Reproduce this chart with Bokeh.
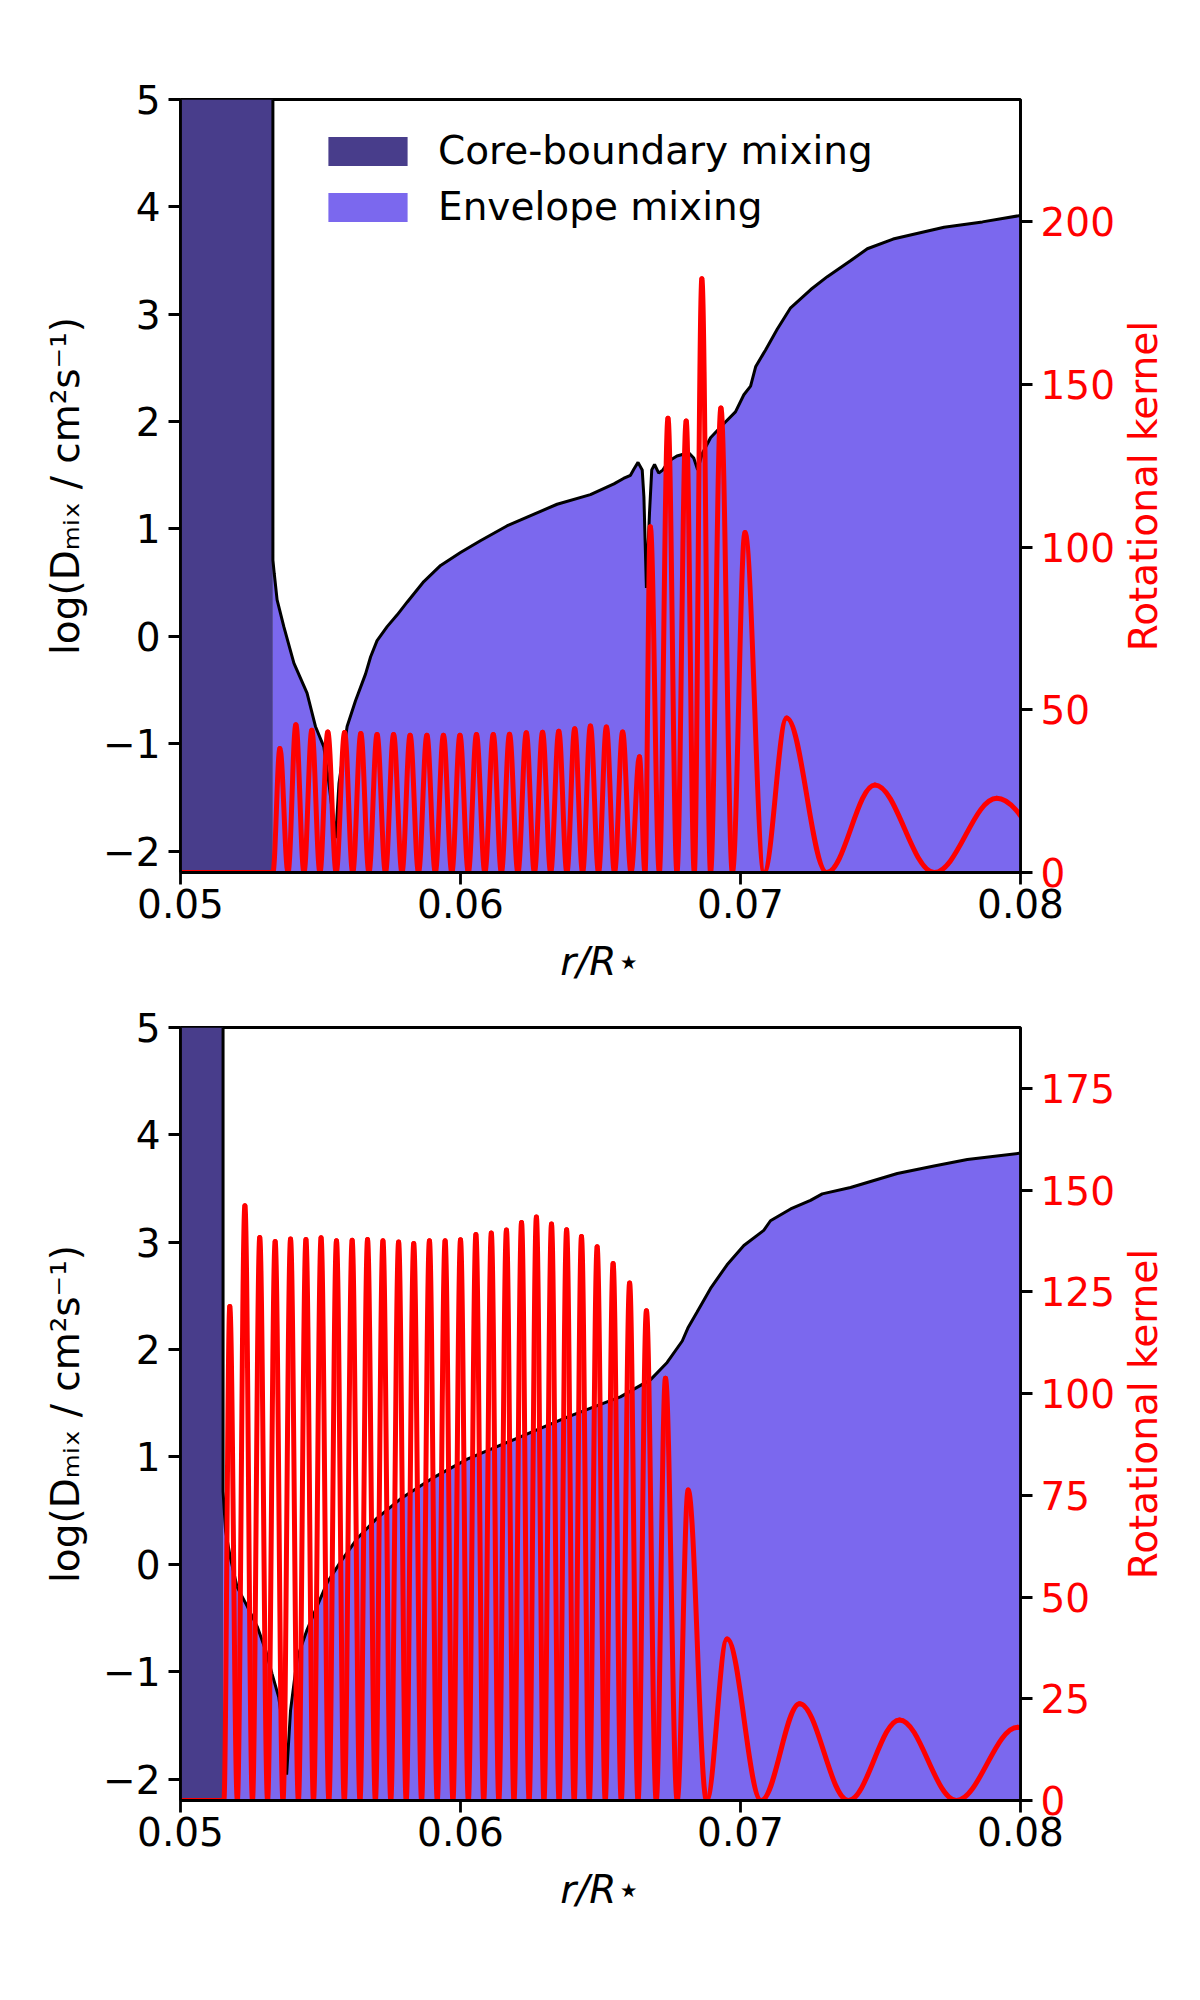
import math
from bokeh.plotting import figure
from bokeh.models import Range1d, LinearAxis, FixedTicker, Legend, LegendItem, Label
from bokeh.layouts import column, row
from bokeh.embed import file_html
from bokeh.resources import INLINE

# ---------------- data ----------------
x_limits = (0.05, 0.08)
d_limits = (-2.2, 5.0)
k_limits_top = (0.0, 237.5)
k_limits_bot = (0.0, 190.0)

x_ticks = [0.05, 0.06, 0.07, 0.08]
x_tick_labels = ["0.05", "0.06", "0.07", "0.08"]
d_ticks = [-2, -1, 0, 1, 2, 3, 4, 5]
d_tick_labels = ["\u22122", "\u22121", "0", "1", "2", "3", "4", "5"]
k_ticks_top = [0, 50, 100, 150, 200]
k_ticks_bot = [0, 25, 50, 75, 100, 125, 150, 175]

x_label = "r/R\u22c6"
d_label = "log(D\u2098\u1d62\u2093 / cm\u00b2s\u207b\u00b9)"
k_label = "Rotational kernel"
legend_labels = ["Core-boundary mixing", "Envelope mixing"]

# top panel: mixing profile (log D_mix) and core-boundary edge
core_edge_top = 0.0533
top_r = [0.0533, 0.0533, 0.05335, 0.05345, 0.05369, 0.05405, 0.05452, 0.05482,
         0.05512, 0.05530, 0.05554, 0.05566, 0.05595, 0.05625, 0.05661, 0.05679,
         0.05702, 0.05738, 0.05774, 0.05810, 0.05869, 0.05929, 0.06000, 0.06071,
         0.06167, 0.06238, 0.06345, 0.06464, 0.06548, 0.06582, 0.06607, 0.06620,
         0.06634, 0.06649, 0.06655, 0.06664, 0.06675, 0.06683, 0.06693, 0.06708,
         0.06723, 0.06743, 0.06773, 0.06815, 0.06833, 0.06847, 0.06863, 0.06893,
         0.06940, 0.06982, 0.07012, 0.07036, 0.07054, 0.07090, 0.07131, 0.07179,
         0.07251, 0.07310, 0.07394, 0.07453, 0.07545, 0.07727, 0.07864, 0.08000]
top_logD = [5.0, 0.71, 0.58, 0.34, 0.09, -0.25, -0.53, -0.84,
            -1.03, -1.37, -1.88, -1.37, -0.84, -0.60, -0.35, -0.19,
            -0.04, 0.09, 0.20, 0.32, 0.51, 0.66, 0.78, 0.89,
            1.03, 1.11, 1.23, 1.32, 1.42, 1.47, 1.50, 1.56,
            1.62, 1.55, 1.30, 0.45, 1.15, 1.55, 1.60, 1.52,
            1.55, 1.63, 1.68, 1.71, 1.66, 1.55, 1.70, 1.85,
            1.98, 2.09, 2.25, 2.33, 2.51, 2.67, 2.86, 3.06,
            3.23, 3.35, 3.50, 3.61, 3.70, 3.81, 3.86, 3.92]

# top panel: rotational kernel, zeros and peaks
top_k_zeros = [0.05330, 0.05384, 0.05441, 0.05498, 0.05556, 0.05615, 0.05673,
               0.05732, 0.05791, 0.05850, 0.05910, 0.05969, 0.06028, 0.06087,
               0.06146, 0.06205, 0.06264, 0.06322, 0.06380, 0.06436, 0.06493,
               0.06550, 0.06609, 0.06659, 0.06710, 0.06773, 0.06835, 0.06893,
               0.06971, 0.07084, 0.07308, 0.07692, 0.08180]
top_k_peak_r = [0.05355, 0.05412, 0.05469, 0.05526, 0.05586, 0.05644, 0.05702,
                0.05761, 0.05820, 0.05880, 0.05939, 0.05998, 0.06057, 0.06117,
                0.06175, 0.06235, 0.06293, 0.06351, 0.06408, 0.06464, 0.06521,
                0.06579, 0.06639, 0.06678, 0.06741, 0.06806, 0.06862, 0.06930,
                0.07016, 0.07165, 0.07480, 0.07915]
top_k_peak = [38.1, 45.4, 43.7, 43.2, 43.0, 42.7, 42.4,
              42.4, 42.2, 42.2, 42.2, 42.2, 42.4, 42.4,
              42.5, 42.9, 43.1, 43.4, 44.2, 45.0, 44.7,
              43.2, 35.6, 106.2, 139.6, 138.7, 182.4, 142.7,
              104.5, 47.5, 26.9, 22.8]

# bottom panel: mixing profile
core_edge_bot = 0.05152
bot_r = [0.05152, 0.05152, 0.05161, 0.05179, 0.05202, 0.05238, 0.05274, 0.05304,
         0.05327, 0.05351, 0.05367, 0.05379, 0.05393, 0.05417, 0.05452, 0.05488,
         0.05524, 0.05571, 0.05631, 0.05702, 0.05786, 0.05905, 0.06024, 0.06143,
         0.06262, 0.06381, 0.06500, 0.06571, 0.06679, 0.06738, 0.06792, 0.06812,
         0.06845, 0.06893, 0.06952, 0.07012, 0.07083, 0.07107, 0.07179, 0.07250,
         0.07292, 0.07393, 0.07560, 0.07691, 0.07810, 0.08000]
bot_logD = [5.0, 0.68, 0.31, 0.05, -0.21, -0.39, -0.58, -0.80,
            -1.02, -1.24, -1.54, -1.96, -1.36, -0.87, -0.61, -0.39,
            -0.17, 0.02, 0.24, 0.43, 0.61, 0.81, 0.98, 1.11,
            1.24, 1.37, 1.49, 1.56, 1.72, 1.88, 2.08, 2.20,
            2.35, 2.57, 2.79, 2.97, 3.11, 3.20, 3.31, 3.39,
            3.45, 3.51, 3.64, 3.71, 3.77, 3.83]

# bottom panel: rotational kernel
bot_k_zeros = [0.05155, 0.05203, 0.05257, 0.05311, 0.05366, 0.05421, 0.05475,
               0.05530, 0.05585, 0.05641, 0.05696, 0.05751, 0.05806, 0.05861,
               0.05917, 0.05973, 0.06028, 0.06083, 0.06137, 0.06191, 0.06245,
               0.06298, 0.06352, 0.06406, 0.06460, 0.06517, 0.06574, 0.06634,
               0.06699, 0.06774, 0.06879, 0.07074, 0.07385, 0.07771, 0.08200]
bot_k_peak_r = [0.05176, 0.05230, 0.05283, 0.05338, 0.05393, 0.05448, 0.05502,
                0.05557, 0.05613, 0.05668, 0.05723, 0.05779, 0.05833, 0.05889,
                0.05945, 0.06000, 0.06055, 0.06110, 0.06164, 0.06218, 0.06271,
                0.06325, 0.06379, 0.06432, 0.06488, 0.06545, 0.06604, 0.06664,
                0.06732, 0.06813, 0.06952, 0.07211, 0.07568, 0.07990]
bot_k_peak = [121.4, 146.2, 138.4, 137.4, 138.0, 137.9, 138.3,
              137.6, 137.7, 137.9, 137.6, 137.3, 136.9, 137.6,
              137.6, 137.8, 139.1, 139.5, 140.2, 142.1, 143.4,
              141.7, 140.3, 138.6, 136.1, 132.0, 127.2, 120.4,
              103.8, 76.3, 39.7, 23.8, 19.8, 18.0]

# ---------------- styling ----------------
CORE_COLOR = "#483D8B"
ENV_COLOR = "#7B68EE"
FONT = "DejaVu Sans"
FS = "39px"
BEZ_K = 0.364
MAIN_W = 1120      # 180 left border + 840 frame + 100 right-axis border
LABEL_W = 46       # narrow strip that carries the right-hand axis title


def kernel_segments(zeros, peak_r, peak_k):
    seg = dict(x0=[], y0=[], x1=[], y1=[], cx0=[], cy0=[], cx1=[], cy1=[])
    for i, (pr, pk) in enumerate(zip(peak_r, peak_k)):
        zl, zr = zeros[i], zeros[i + 1]
        for (xa, ya, xb, yb) in ((zl, 0.0, pr, pk), (pr, pk, zr, 0.0)):
            d = xb - xa
            seg["x0"].append(xa); seg["y0"].append(ya)
            seg["x1"].append(xb); seg["y1"].append(yb)
            seg["cx0"].append(xa + BEZ_K * d); seg["cy0"].append(ya)
            seg["cx1"].append(xb - BEZ_K * d); seg["cy1"].append(yb)
    return seg


def style_axis(ax, label_color="black"):
    ax.axis_line_color = "black"
    ax.axis_line_width = 2.8
    ax.major_tick_line_color = "black"
    ax.major_tick_line_width = 2.8
    ax.major_tick_in = 0
    ax.major_tick_out = 12
    ax.minor_tick_line_color = None
    ax.major_label_text_font = FONT
    ax.major_label_text_font_size = FS
    ax.major_label_text_color = label_color
    ax.axis_label_text_font = FONT
    ax.axis_label_text_font_size = FS
    ax.axis_label_text_color = label_color
    ax.axis_label_text_font_style = "normal"


def make_panel(height, border_top, border_bottom, core_edge, r, logD,
               k_zeros, k_peak_r, k_peak, k_limits, k_ticks, with_legend):
    p = figure(width=MAIN_W, height=height,
               x_range=Range1d(*x_limits), y_range=Range1d(*d_limits),
               output_backend="svg", toolbar_location=None,
               min_border_left=180, min_border_right=100,
               min_border_top=border_top, min_border_bottom=border_bottom)
    p.extra_y_ranges = {"kernel": Range1d(*k_limits)}
    p.grid.visible = False
    p.outline_line_color = "black"
    p.outline_line_width = 2.8
    p.background_fill_color = "white"
    p.border_fill_color = "white"

    core_r = p.varea(x=[x_limits[0], core_edge], y1=[d_limits[0]] * 2,
                     y2=[d_limits[1]] * 2, fill_color=CORE_COLOR)
    env_r = p.varea(x=r, y1=[d_limits[0]] * len(r), y2=logD, fill_color=ENV_COLOR)
    p.line(x=r, y=logD, line_color="black", line_width=3)

    p.line(x=[x_limits[0], k_zeros[0]], y=[0, 0], line_color="red",
           line_width=5, y_range_name="kernel")
    seg = kernel_segments(k_zeros, k_peak_r, k_peak)
    p.bezier(x0=seg["x0"], y0=seg["y0"], x1=seg["x1"], y1=seg["y1"],
             cx0=seg["cx0"], cy0=seg["cy0"], cx1=seg["cx1"], cy1=seg["cy1"],
             line_color="red", line_width=5, line_cap="round",
             y_range_name="kernel")

    xa = p.xaxis[0]
    style_axis(xa)
    xa.ticker = FixedTicker(ticks=x_ticks)
    xa.major_label_overrides = {t: s for t, s in zip(x_ticks, x_tick_labels)}
    xa.axis_label = x_label
    xa.axis_label_text_font_style = "italic"
    xa.major_label_standoff = 4
    xa.axis_label_standoff = 18

    ya = p.yaxis[0]
    style_axis(ya)
    ya.ticker = FixedTicker(ticks=d_ticks)
    ya.major_label_overrides = {t: s for t, s in zip(d_ticks, d_tick_labels)}
    ya.axis_label = d_label
    ya.major_label_standoff = 8
    ya.axis_label_standoff = 12

    ka = LinearAxis(y_range_name="kernel", ticker=FixedTicker(ticks=k_ticks))
    style_axis(ka, "red")
    ka.major_label_standoff = 8
    p.add_layout(ka, "right")

    if with_legend:
        leg = Legend(items=[LegendItem(label=legend_labels[0], renderers=[core_r]),
                            LegendItem(label=legend_labels[1], renderers=[env_r])],
                     location=(138, 643))
        leg.border_line_color = None
        leg.background_fill_alpha = 0
        leg.padding = 0
        leg.margin = 0
        leg.spacing = 11
        leg.glyph_width = 99
        leg.glyph_height = 36
        leg.label_standoff = 21
        leg.label_text_font = FONT
        leg.label_text_font_size = FS
        leg.label_text_color = "black"
        p.add_layout(leg)

    # narrow strip with the right-hand axis title (reads bottom-to-top)
    t = figure(width=LABEL_W, height=height, x_range=Range1d(0, 1),
               y_range=Range1d(0, 1), output_backend="svg", toolbar_location=None,
               x_axis_type=None, y_axis_type=None,
               min_border_left=0, min_border_right=0,
               min_border_top=border_top, min_border_bottom=border_bottom)
    t.grid.visible = False
    t.outline_line_color = None
    t.background_fill_color = "white"
    t.border_fill_color = "white"
    t.add_layout(Label(x=0.5, y=0.5, text=k_label, angle=math.pi / 2,
                       text_align="center", text_baseline="middle",
                       text_font=FONT, text_font_size=FS, text_color="red"))
    return row(p, t)


top = make_panel(1002, 99, 130, core_edge_top, top_r, top_logD,
                 top_k_zeros, top_k_peak_r, top_k_peak, k_limits_top, k_ticks_top, True)
bot = make_panel(948, 25, 150, core_edge_bot, bot_r, bot_logD,
                 bot_k_zeros, bot_k_peak_r, bot_k_peak, k_limits_bot, k_ticks_bot, False)

layout = column(top, bot)
open("out.html", "w").write(file_html(layout, INLINE))
